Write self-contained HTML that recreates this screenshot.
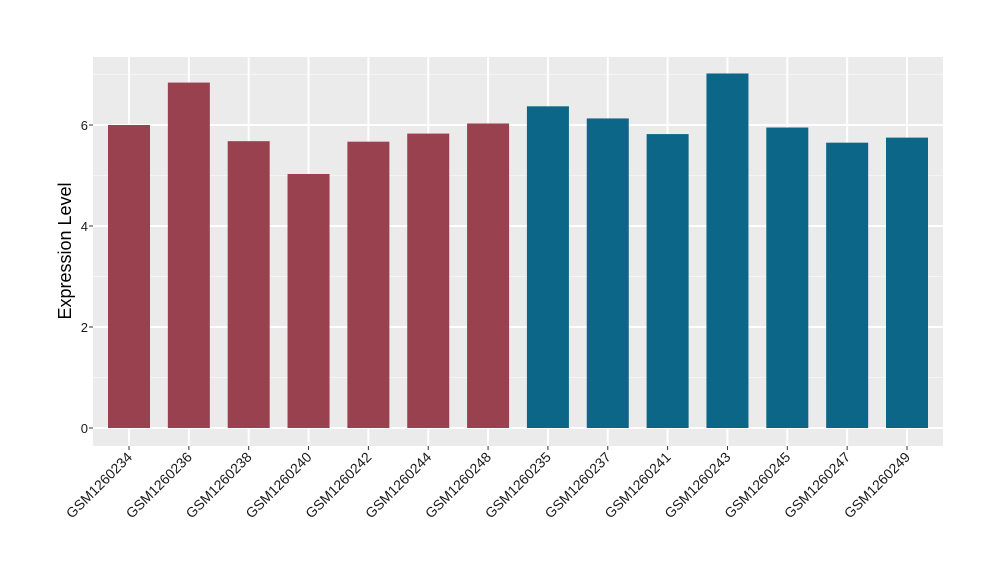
<!DOCTYPE html>
<html><head><meta charset="utf-8"><style>
html,body{margin:0;padding:0;background:#fff;}
svg{display:block;font-family:"Liberation Sans",Arial,sans-serif;}
</style></head><body>
<svg width="1000" height="580" viewBox="0 0 1000 580" xmlns="http://www.w3.org/2000/svg">
<rect x="93" y="57" width="850" height="389" fill="#EBEBEB"/>
<g stroke="#F5F5F5" stroke-width="1">
<line x1="93" x2="943" y1="377.5" y2="377.5"/>
<line x1="93" x2="943" y1="276.5" y2="276.5"/>
<line x1="93" x2="943" y1="175.5" y2="175.5"/>
<line x1="93" x2="943" y1="74.5" y2="74.5"/>
</g>
<g stroke="#FFFFFF" stroke-width="2" id="grid"></g>
<g id="bars"></g>
<g id="ticks" stroke="#333" stroke-width="1"></g>
<g id="labels" font-size="14" fill="#1a1a1a"></g>
<g font-size="13" fill="#1a1a1a" text-anchor="end">
<text x="88" y="433">0</text>
<text x="88" y="332">2</text>
<text x="88" y="231">4</text>
<text x="88" y="130">6</text>
</g>
<text transform="translate(71,251) rotate(-90)" text-anchor="middle" font-size="18" fill="#000">Expression Level</text>
</svg>
<script>
(function(){
var names=["GSM1260234","GSM1260236","GSM1260238","GSM1260240","GSM1260242","GSM1260244","GSM1260248","GSM1260235","GSM1260237","GSM1260241","GSM1260243","GSM1260245","GSM1260247","GSM1260249"];
var vals=[6.0,6.84,5.68,5.03,5.67,5.83,6.03,6.37,6.13,5.82,7.02,5.95,5.65,5.75];
var ns="http://www.w3.org/2000/svg";
function el(t,a,p){var e=document.createElementNS(ns,t);for(var k in a)e.setAttribute(k,a[k]);p.appendChild(e);return e;}
var g=document.getElementById("grid"),b=document.getElementById("bars"),tk=document.getElementById("ticks"),lb=document.getElementById("labels");
[428,327,226,125].forEach(function(y){el("line",{x1:93,x2:943,y1:y,y2:y},g);el("line",{x1:89,x2:93,y1:y,y2:y},tk);});
for(var i=0;i<14;i++){
 var cx=129+i*59.846;
 el("line",{x1:cx,x2:cx,y1:57,y2:446},g);
 var ty=428-vals[i]*50.5;
 el("rect",{x:cx-21,y:ty,width:42,height:428-ty,fill:i<7?"#9A4150":"#0B6688"},b);
 el("line",{x1:cx,x2:cx,y1:446,y2:450},tk);
 var t=el("text",{transform:"translate("+(cx+4)+",458) rotate(-45)","text-anchor":"end"},lb);
 t.textContent=names[i];
}
})();
</script>
</body></html>
